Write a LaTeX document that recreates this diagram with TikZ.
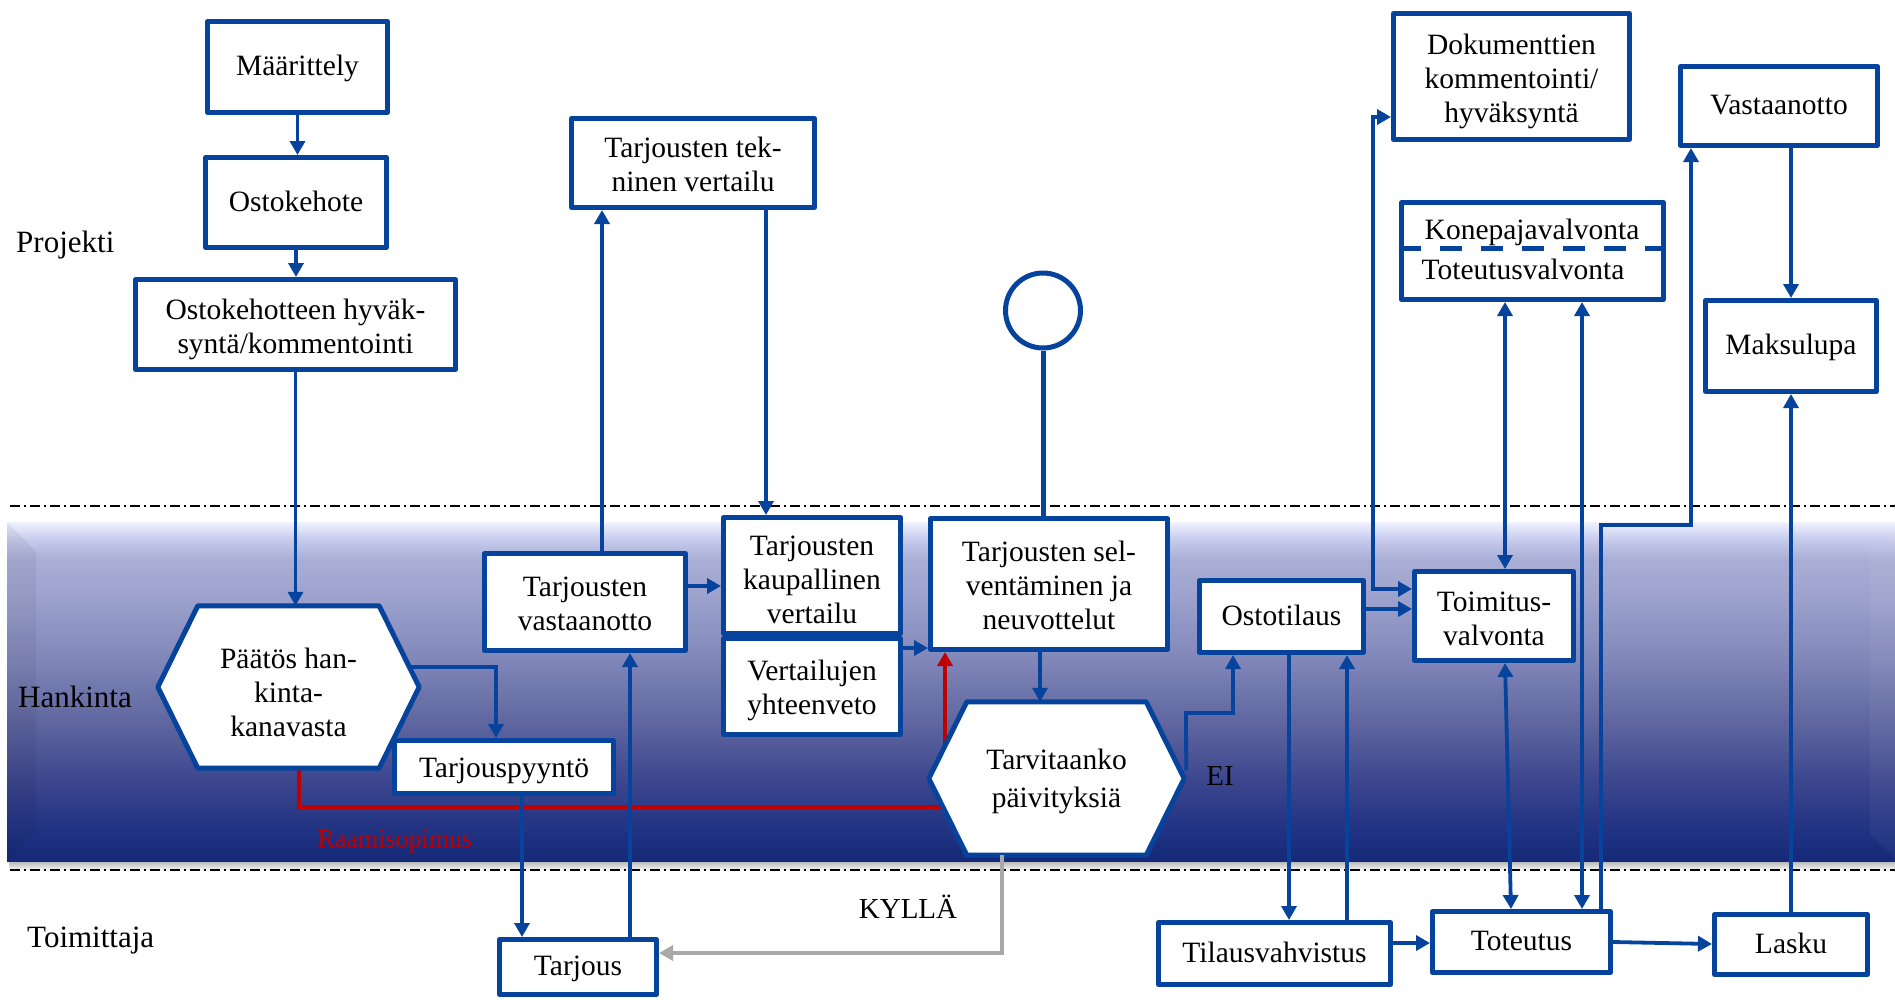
\documentclass[tikz,border=0pt]{standalone}
\usepackage{fontspec}
\setmainfont{Liberation Serif}
\usetikzlibrary{arrows.meta,calc}

\definecolor{flowblue}{RGB}{6,67,156}
\definecolor{looprd}{RGB}{192,0,0}
\definecolor{backgr}{RGB}{168,168,168}
\definecolor{bandA}{RGB}{22,40,120}
\definecolor{bandB}{RGB}{32,50,130}
\definecolor{bandC}{RGB}{60,70,142}
\definecolor{bandD}{RGB}{96,103,160}
\definecolor{bandE}{RGB}{128,134,184}
\definecolor{bandF}{RGB}{155,161,204}
\definecolor{bandG}{RGB}{168,174,213}
\definecolor{bandH}{RGB}{196,201,236}
\definecolor{bandI}{RGB}{240,242,255}

% vertical fill of the purchasing lane, dark at the bottom, glossy at the top
\pgfdeclareverticalshading{bandshade}{100bp}{color(0bp)=(bandA); color(25bp)=(bandA); color(29.4bp)=(bandB); color(36.8bp)=(bandC); color(45.7bp)=(bandD); color(54.6bp)=(bandE); color(63.5bp)=(bandF); color(69.4bp)=(bandG); color(72.3bp)=(bandH); color(75bp)=(bandI); color(100bp)=(bandI)}

\pgfdeclarelayer{bandlayer}
\pgfdeclarelayer{wirelayer}
\pgfdeclarelayer{hexlayer}
\pgfsetlayers{bandlayer,wirelayer,hexlayer,main}

% fixed first-line height and last-line depth, so every label sits at the same optical centre
\newcommand{\firstlinestrut}{\rule{0pt}{25pt}}
\newcommand{\lastlinestrut}{\rule[-8pt]{0pt}{8pt}}
\newcommand{\headstrut}[1]{\rule{0pt}{#1pt}}

\tikzset{
  evenlabel/.style={execute at begin node=\firstlinestrut, execute at end node=\lastlinestrut},
  box/.style={draw=flowblue, line width=5pt, line join=round, fill=white, inner sep=0pt, align=center, evenlabel},
  hexlabel/.style={inner sep=0pt, align=center, evenlabel},
  hexline/.style={draw=flowblue, line width=5pt, line join=round, fill=white},
  conn/.style={draw=flowblue, line width=3.8pt, -{Triangle[length=14pt,width=15pt]}},
  twoway/.style={draw=flowblue, line width=3.8pt, {Triangle[length=14pt,width=15pt]}-{Triangle[length=14pt,width=15pt]}},
  redconn/.style={draw=looprd, line width=3.8pt, -{Triangle[length=14pt,width=15pt]}},
  greyconn/.style={draw=backgr, line width=3.8pt, -{Triangle[length=14pt,width=15pt]}},
  lanelabel/.style={anchor=base west, inner sep=0pt, font=\fontsize{31}{36}\selectfont},
  plaintext/.style={anchor=base, inner sep=0pt},
  laneline/.style={black, line width=1.8pt, dash pattern=on 10pt off 4pt on 2pt off 4pt},
}

\begin{document}
\begin{tikzpicture}[x=1pt, y=-1pt, font=\fontsize{29.5}{34}\selectfont]
\useasboundingbox (0,0) rectangle (1895,999);

% ---- purchasing lane and lane separators
\begin{pgfonlayer}{bandlayer}
  \shade[top color=black!35, bottom color=white] (9,859) rectangle (1895,871);
  \shade[shading=bandshade] (7,522) rectangle (1895,861);
  \fill[black, opacity=0.05] (7,522) -- (36,552) -- (36,832) -- (7,861) -- cycle;
  \fill[white, opacity=0.045] (1895,528) -- (1870,548) -- (1870,834) -- (1895,858) -- cycle;
  \draw[laneline] (10,506) -- (1895,506);
  \draw[laneline] (10,870) -- (1895,870);
\end{pgfonlayer}

% ---- lane names
\node[lanelabel] (lblproj) at (16,252) {Projekti};
\node[lanelabel] (lblhank) at (18,707) {Hankinta};
\node[lanelabel] (lbltoim) at (27,947) {Toimittaja};

% ---- project lane
\node[box, minimum width=180pt, minimum height=91pt] (maar) at (297.5,67) {Määrittely};
\node[box, minimum width=181pt, minimum height=90pt] (osto) at (296,202.5) {Ostokehote};
\node[box, minimum width=320pt, minimum height=90pt] (ostohyv) at (295.5,324.5) {\headstrut{31}Ostokehotteen hyväk-\\syntä/kommentointi};
\node[box, minimum width=243pt, minimum height=89pt] (tekn) at (693,163) {\headstrut{30}Tarjousten tek-\\ninen vertailu};
\node[circle, draw=flowblue, line width=5pt, fill=white, minimum size=75pt, inner sep=0pt] (ring) at (1043,310.5) {};
\node[box, minimum width=236pt, minimum height=126pt] (dok) at (1511.5,76.5) {\headstrut{31}Dokumenttien\\kommentointi/\\hyväksyntä};
\node[box, minimum width=197pt, minimum height=79pt] (vastot) at (1779,106) {Vastaanotto};
\node[box, minimum width=262pt, minimum height=97pt] (valv) at (1532.5,251) {};
\node[box, minimum width=171pt, minimum height=91pt] (maks) at (1791,346) {Maksulupa};
\draw[flowblue, line width=5pt, dash pattern=on 22pt off 19pt] (valv.west |- 0,248) -- (valv.east |- 0,248);
\node[plaintext] (konep) at (1532,239) {Konepajavalvonta};
\node[plaintext] (toteutv) at (1523,279) {Toteutusvalvonta};

% ---- purchasing lane
\node[hexlabel, minimum width=261pt, minimum height=162pt] (paatos) at (288.5,687) {\headstrut{39}Päätös han-\\kinta-\\kanavasta};
\node[box, minimum width=219pt, minimum height=53pt] (tpyynto) at (504,767) {\headstrut{28}Tarjouspyyntö};
\node[box, minimum width=201pt, minimum height=97pt] (vast) at (585,602) {\headstrut{31}Tarjousten\\vastaanotto};
\node[box, minimum width=177pt, minimum height=116pt] (kaup) at (812,575.5) {\headstrut{35}Tarjousten\\kaupallinen\\vertailu};
\node[box, minimum width=177pt, minimum height=96pt] (yht) at (812,686.5) {\headstrut{29}Vertailujen\\yhteenveto};
\node[box, minimum width=237pt, minimum height=131pt] (selv) at (1049,584) {\headstrut{31}Tarjousten sel-\\ventäminen ja\\neuvottelut};
\node[hexlabel, minimum width=255pt, minimum height=153pt] (tarv) at (1056.5,778.5) {\headstrut{27}Tarvitaanko\\[4pt]päivityksiä};
\node[box, minimum width=164pt, minimum height=72pt] (ostot) at (1281.5,616.5) {Ostotilaus};
\node[box, minimum width=159pt, minimum height=89pt] (toim) at (1494,616) {\headstrut{33}Toimitus-\\valvonta};

% ---- supplier lane
\node[box, minimum width=157pt, minimum height=55pt] (tarjous) at (578,967) {Tarjous};
\node[box, minimum width=232pt, minimum height=62pt] (tilv) at (1274.5,953.5) {Tilausvahvistus};
\node[box, minimum width=178pt, minimum height=61pt] (tot) at (1521.5,942) {Toteutus};
\node[box, minimum width=153pt, minimum height=60pt] (lasku) at (1791,944.5) {Lasku};

% ---- decision hexagons
\begin{pgfonlayer}{hexlayer}
  \path[hexline] (paatos.west) -- ([xshift=40pt]paatos.north west) -- ([xshift=-40pt]paatos.north east)
    -- (paatos.east) -- ([xshift=-40pt]paatos.south east) -- ([xshift=40pt]paatos.south west) -- cycle;
  \path[hexline] (tarv.west) -- ([xshift=38pt]tarv.north west) -- ([xshift=-38pt]tarv.north east)
    -- (tarv.east) -- ([xshift=-38pt]tarv.south east) -- ([xshift=38pt]tarv.south west) -- cycle;
\end{pgfonlayer}

% ---- framework agreement route, passing behind the update decision
\begin{pgfonlayer}{wirelayer}
  \draw[redconn] (paatos.south -| 299,0) -- (299,807) -- (945,807) -- (selv.south -| 945,0);
\end{pgfonlayer}
\node[plaintext, text=looprd, font=\fontsize{26}{30}\selectfont] (raami) at (395,847) {Raamisopimus};

% ---- flow connectors
\draw[conn] (maar.south) -- (maar.south |- osto.north);
\draw[conn] (osto.south) -- (osto.south |- ostohyv.north);
\draw[conn] (ostohyv.south) -- (ostohyv.south |- paatos.north);
\draw[conn] ($(paatos.east)+(-10,-20)$) -- (496,667) -- (tpyynto.north -| 496,0);
\draw[conn] (tpyynto.south -| 522,0) -- (tarjous.north -| 522,0);
\draw[conn] (tarjous.north -| 630,0) -- (vast.south -| 630,0);
\draw[conn] (vast.north -| 602,0) -- (tekn.south -| 602,0);
\draw[conn] (tekn.south -| 766,0) -- (kaup.north -| 766,0);
\draw[conn] (vast.east |- 0,586) -- (kaup.west |- 0,586);
\draw[conn] (yht.east |- 0,648) -- (selv.west |- 0,648);
\draw[conn] (selv.south -| 1040,0) -- (tarv.north -| 1040,0);
\draw[flowblue, line width=5pt] (ring.south) -- (ring.south |- selv.north);
\draw[conn] ($(tarv.east)+(2,-8)$) -- (1186,713) -- (1233,713) -- (ostot.south -| 1233,0);
\draw[greyconn] (tarv.south -| 1002,0) -- (1002,953) -- (tarjous.east |- 0,953);
\draw[twoway] (dok.west |- 0,117) -- (1373,117) -- (1373,589) -- (toim.west |- 0,589);
\draw[conn] (ostot.east |- 0,609) -- (toim.west |- 0,609);
\draw[conn] (ostot.south -| 1289,0) -- (tilv.north -| 1289,0);
\draw[conn] (tilv.north -| 1347,0) -- (ostot.south -| 1347,0);
\draw[twoway] (valv.south -| 1505,0) -- (toim.north -| 1505,0);
\draw[twoway] (toim.south -| 1505,0) -- (tot.north -| 1511,0);
\draw[twoway] (valv.south -| 1582,0) -- (tot.north -| 1582,0);
\draw[conn] (tot.north -| 1601,0) -- (1601,525) -- (1691,525) -- (vastot.south -| 1691,0);
\draw[conn] (vastot.south -| 1791,0) -- (maks.north -| 1791,0);
\draw[conn] (lasku.north) -- (maks.south);
\draw[conn] (tilv.east |- 0,943) -- (tot.west |- 0,943);
\draw[conn] (tot.east |- 0,942) -- (lasku.west |- 0,944);

% ---- decision answers
\node[plaintext, font=\fontsize{29}{34}\selectfont] (kylla) at (908,918) {KYLLÄ};
\node[plaintext, font=\fontsize{29}{34}\selectfont] (ei) at (1220,785) {EI};
\end{tikzpicture}
\end{document}
